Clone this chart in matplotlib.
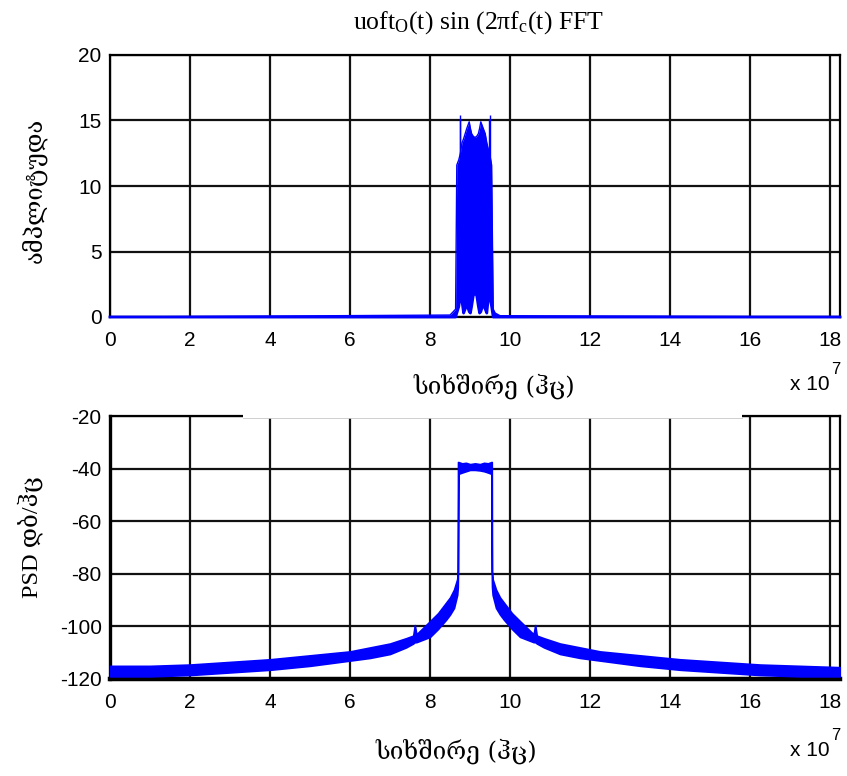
import matplotlib
matplotlib.use("Agg")
import matplotlib.pyplot as plt
from matplotlib.patches import Rectangle
from matplotlib.lines import Line2D

plt.rcParams["mathtext.fontset"] = "custom"
plt.rcParams["mathtext.rm"] = "Liberation Serif"
plt.rcParams["mathtext.it"] = "Liberation Serif:italic"

SANS = ["Liberation Sans", "DejaVu Sans"]
GEO = ["DejaVu Serif", "DejaVu Sans"]
SERIF = ["Liberation Serif", "DejaVu Serif"]
BLUE = "#0000ff"

# ---- FFT magnitude (frequency in units of 1e7 Hz) ----
fft_freq = [0.0, 8.50, 8.58, 8.64, 8.67, 8.72, 8.76, 8.80, 8.84, 8.88, 8.92, 8.98,
            9.01, 9.04, 9.08, 9.125, 9.17, 9.21, 9.24, 9.27, 9.33, 9.38, 9.42,
            9.45, 9.49, 9.54, 9.58, 9.63, 9.75, 18.25]
fft_upper = [0.0, 0.15, 0.4, 0.6, 11.6, 12.0, 12.5, 13.3, 13.6, 14.0, 14.4, 14.9,
             14.4, 14.0, 13.8, 13.7, 13.8, 14.0, 14.4, 14.9, 14.4, 14.0, 13.3,
             12.9, 12.5, 11.6, 0.6, 0.3, 0.1, 0.0]
fft_lower = [0.0, 0.0, 0.0, 0.0, 0.3, 0.8, 1.7, 1.2, 0.3, 0.6, 1.0, 0.4,
             0.3, 0.8, 1.6, 1.9, 1.6, 0.8, 0.3, 0.4, 1.0, 0.6, 0.3,
             1.2, 1.7, 0.8, 0.0, 0.0, 0.0, 0.0]
# thin peaks rising out of the dense band
peak_freq = [8.74, 8.755, 9.475, 9.49]
peak_amp = [15.4, 15.1, 15.1, 15.4]

# ---- power spectral density (dB/Hz) ----
psd_freq = [0.0, 1.0, 2.0, 3.0, 4.0, 5.0, 6.0, 6.5, 7.0, 7.4, 7.58, 7.62, 7.66,
            8.0, 8.2, 8.4, 8.5, 8.6, 8.68, 8.695, 8.70, 8.71, 8.80, 8.90, 9.00,
            9.125, 9.25, 9.35, 9.45, 9.535, 9.545, 9.55, 9.565, 9.65, 9.75,
            9.85, 10.05, 10.25, 10.59, 10.63, 10.67, 10.85, 11.25, 11.75,
            12.25, 13.25, 14.25, 15.25, 16.25, 17.25, 18.25]
psd_high = [-115.0, -115.0, -114.5, -113.5, -112.5, -111.0, -109.5, -108.0, -106.5,
            -104.5, -103.5, -99.5, -103.0, -98.0, -95.0, -91.0, -89.0, -86.0, -82.0,
            -79.0, -37.5, -37.5, -38.0, -37.8, -38.3, -38.0, -38.3, -37.8, -38.0,
            -37.5, -37.5, -79.0, -82.0, -86.0, -89.0, -91.0, -95.0, -98.0,
            -103.0, -99.5, -103.5, -104.5, -106.5, -108.0, -109.5, -111.0,
            -112.5, -113.5, -114.5, -115.0, -115.5]
psd_low = [-119.0, -119.0, -118.5, -117.5, -116.5, -115.0, -113.0, -112.0, -110.5,
           -108.0, -106.5, -106.0, -106.0, -104.0, -101.0, -97.5, -95.5, -93.0, -88.0,
           -85.0, -80.0, -42.0, -41.5, -41.0, -40.5, -40.5, -40.7, -41.0, -41.5,
           -42.0, -80.0, -85.0, -88.0, -93.0, -95.5, -97.5, -101.0, -104.0,
           -106.0, -106.0, -106.5, -108.0, -110.5, -112.0, -113.0, -115.0,
           -116.5, -117.5, -118.5, -119.0, -119.0]

x_ticks = [0, 2, 4, 6, 8, 10, 12, 14, 16, 18]
amp_ticks = [0, 5, 10, 15, 20]
psd_ticks = [-120, -100, -80, -60, -40, -20]
x_max = 18.25

fig = plt.figure(figsize=(8.47, 7.76), dpi=100)
W, H = 847.0, 776.0
ax1 = fig.add_axes([110 / W, 1 - 317 / H, 730 / W, 262 / H])
ax2 = fig.add_axes([110 / W, 1 - 679 / H, 730 / W, 263 / H])


def style(ax, yticks, ylim):
    ax.set_xlim(0, x_max)
    ax.set_ylim(*ylim)
    ax.set_xticks(x_ticks)
    ax.set_yticks(yticks)
    ax.set_xticklabels([str(t) for t in x_ticks], fontfamily=SANS, fontsize=15)
    ax.set_yticklabels([str(t) for t in yticks], fontfamily=SANS, fontsize=15)
    ax.tick_params(axis="both", length=0)
    ax.tick_params(axis="x", pad=10)
    ax.tick_params(axis="y", pad=6)
    ax.grid(True, color="#111111", linewidth=1.6, linestyle="-")
    ax.set_axisbelow(True)
    for sp in ax.spines.values():
        sp.set_linewidth(1.6)
        sp.set_color("black")


style(ax1, amp_ticks, (0, 20))
style(ax2, psd_ticks, (-120, -20))

# FFT magnitude
ax1.fill_between(fft_freq, fft_lower, fft_upper, color=BLUE, linewidth=0, zorder=3)
ax1.plot(fft_freq, fft_upper, color=BLUE, linewidth=1.0, zorder=3)
ax1.plot(fft_freq, fft_lower, color=BLUE, linewidth=2.0, zorder=3, clip_on=False)
ax1.vlines(peak_freq, fft_upper[4], peak_amp, color=BLUE, linewidth=1.0, zorder=3)

# PSD
ax2.fill_between(psd_freq, psd_low, psd_high, color=BLUE, linewidth=1.2,
                 edgecolor=BLUE, zorder=3)
ax2.spines["bottom"].set_linewidth(3.2)
ax2.spines["left"].set_linewidth(2.4)

# titles and labels
fig.text(479 / W, 1 - 23 / H, r"uoft$_{\mathrm{O}}$(t) sin (2πf$_{\mathrm{c}}$(t) FFT",
         ha="center", va="center", fontsize=18.5, fontfamily=SERIF)
fig.text(34 / W, 1 - 190 / H, "ამპლიტუდა", rotation=90, ha="center", va="center",
         fontsize=17, fontfamily=GEO)
fig.text(30 / W, 1 - 537 / H, "PSD დბ/ჰც", rotation=90, ha="center", va="center",
         fontsize=17.5, fontfamily=SERIF + GEO)

# white band over part of the lower panel's top edge
fig.patches.append(Rectangle((243 / W, 1 - 417.5 / H), (742 - 243) / W, 11 / H,
                             transform=fig.transFigure, facecolor="white",
                             edgecolor="none", zorder=5))
fig.lines.append(Line2D([243 / W, 742 / W], [1 - 417.5 / H, 1 - 417.5 / H],
                        transform=fig.transFigure, color="#c8c8c8", linewidth=0.6,
                        zorder=6))

fig.text(494 / W, 1 - 386 / H, "სიხშირე (ჰც)", ha="center", va="center",
         fontsize=17.5, fontfamily=GEO, zorder=7)
fig.text(456 / W, 1 - 751 / H, "სიხშირე (ჰც)", ha="center", va="center",
         fontsize=17.5, fontfamily=GEO, zorder=7)

for yc, ys in ((385, 369), (750, 735)):
    fig.text(830 / W, 1 - yc / H, "x 10", ha="right", va="center",
             fontsize=15, fontfamily=SANS, zorder=7)
    fig.text(831 / W, 1 - ys / H, "7", ha="left", va="center",
             fontsize=12, fontfamily=SANS, zorder=7)

fig.savefig("out.png", dpi=100, facecolor="white")
